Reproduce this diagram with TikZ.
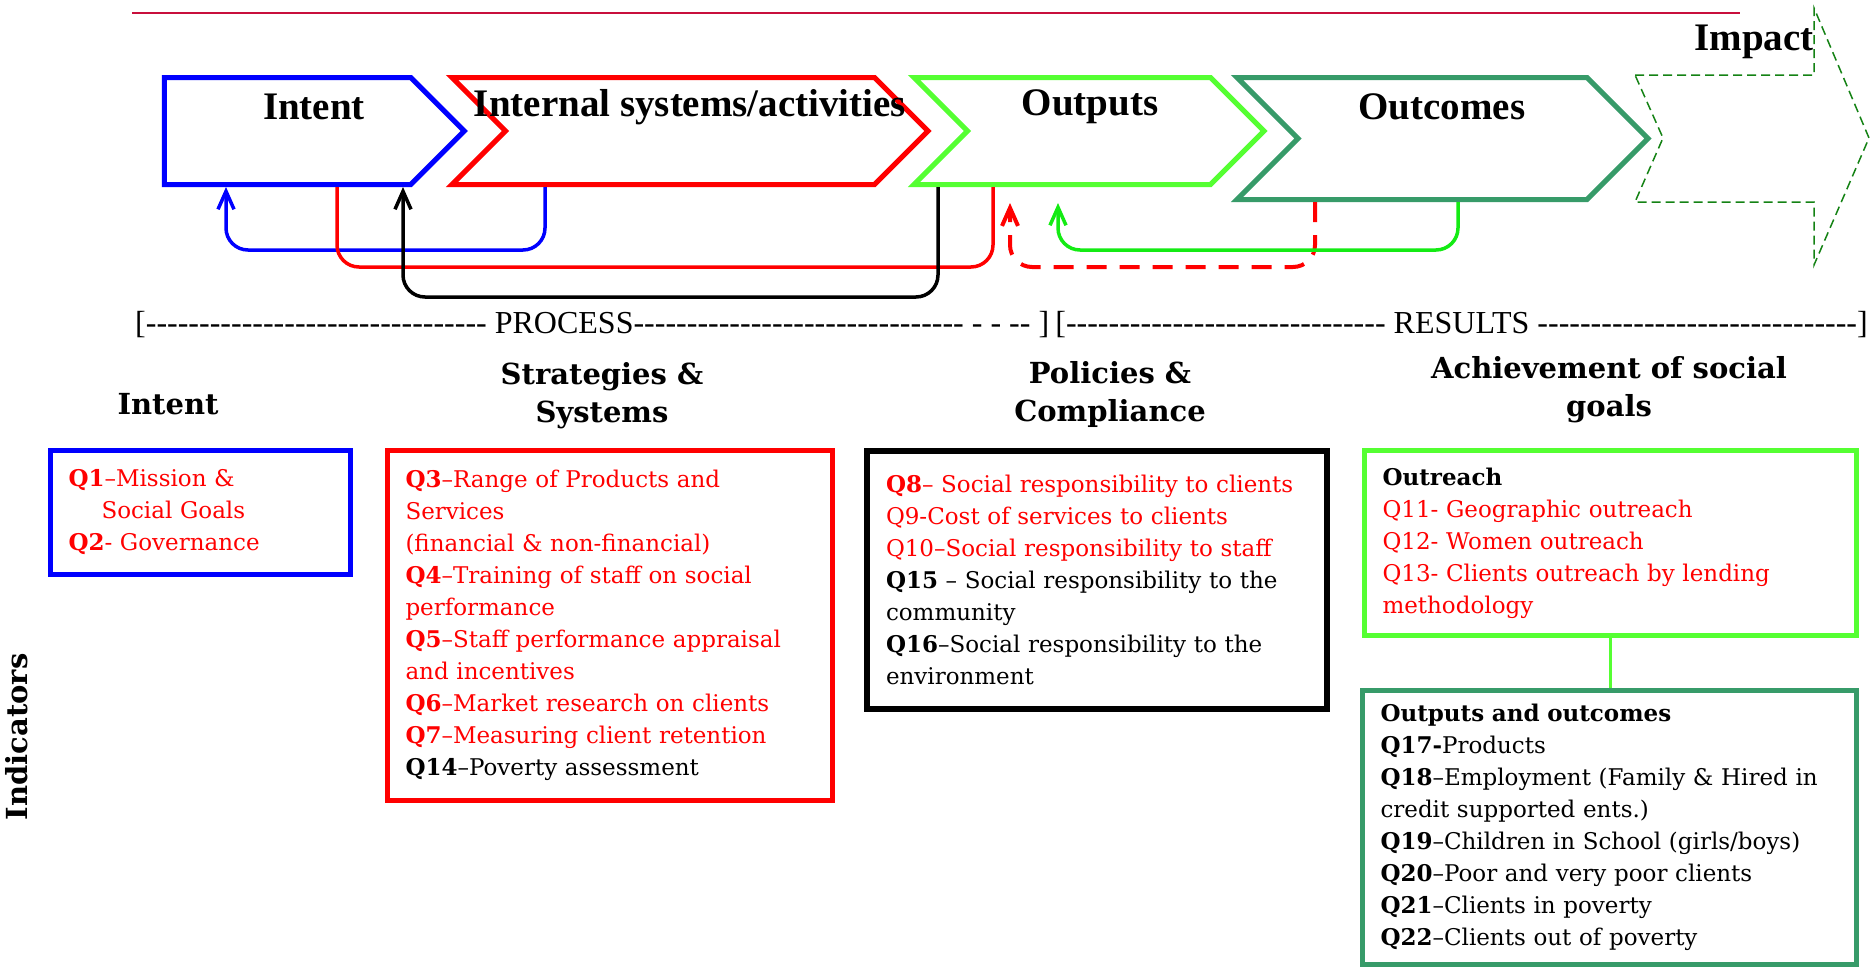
\documentclass[tikz,border=0pt]{standalone}
\usepackage{fontspec}
\setmainfont{DejaVu Serif}
\newfontfamily\timesfont{Liberation Serif}
\usetikzlibrary{arrows.meta,positioning,shapes.symbols,calc}
\definecolor{limeg}{RGB}{85,255,50}
\definecolor{leaf}{RGB}{20,235,20}
\definecolor{pine}{RGB}{55,155,105}
\definecolor{forest}{RGB}{20,130,20}
\definecolor{crimson}{RGB}{200,15,60}
\tikzset{
  >={Straight Barb[length=18pt,width=16pt]},
  chev/.style={signal,signal to=east,signal from=west,signal pointer angle=90,
    draw=#1,line width=5pt,inner sep=0pt},
  chevtext/.style={font=\timesfont\bfseries\fontsize{39}{42}\selectfont},
  head/.style={font=\bfseries\fontsize{29}{38}\selectfont,align=center},
  qbox/.style={draw=#1,line width=5pt,inner xsep=18pt,inner ysep=0pt,
    anchor=north west,align=left,font=\fontsize{23}{32}\selectfont},
  fb/.style={draw=#1,line width=3.5pt,rounded corners=22pt},
  bracket/.style={font=\timesfont\fontsize{32}{34}\selectfont,inner sep=0pt},
}
\newcommand{\q}[1]{\textbf{#1}}
\newcommand{\dashrun}[1]{\foreach \i in {1,...,#1}{-\kern0pt}}

\begin{document}
\begin{tikzpicture}[x=1pt,y=-1pt]
  \useasboundingbox (0,0) rectangle (1872,969);
  \draw[crimson,line width=2.5pt] (132,13) -- (1740,13);
  % value chain
  \node[chev=blue,signal from=nowhere,minimum width=300pt,minimum height=107pt] (intent) at (287.5,131) {};
  \node[chev=red,minimum width=476pt,minimum height=107pt] (internal) at (690,131) {};
  \node[chev=limeg,minimum width=350pt,minimum height=107pt] (outputs) at (1089,131) {};
  \node[chev=pine,minimum width=411pt,minimum height=122pt] (outcomes) at (1442.5,138.5) {};
  \draw[forest,line width=1.5pt,dash pattern=on 9pt off 5pt]
    (1635,75) -- (1814,75) -- (1814,8) -- (1869,138) -- (1814,265)
    -- (1814,202) -- (1635,202) -- (1663,138) -- cycle;
  \node[chevtext] (intent-t) at (314,107) {Intent};
  \node[chevtext] (internal-t) at (690,107) {Internal systems/activities};
  \node[chevtext] (outputs-t) at (1090,107) {Outputs};
  \node[chevtext] (outcomes-t) at (1442,107) {Outcomes};
  \node[chevtext] (impact-t) at (1754,42) {Impact};
  % feedback loops
  \draw[fb=blue,->] ([xshift=-145pt]internal.south) -- ++(0,63) -| ([xshift=-61.5pt]intent.south);
  \draw[fb=red] ([xshift=49.5pt]intent.south) -- ++(0,80) -| ([xshift=-96pt]outputs.south);
  \draw[fb=black,->] ([xshift=-151pt]outputs.south) -- ++(0,110) -| ([xshift=115.5pt]intent.south);
  \draw[fb=red,->,line width=4pt,dash pattern=on 20pt off 13pt] ([xshift=-127.5pt]outcomes.south) -- ++(0,65) -| ([xshift=-79pt,yshift=-16pt]outputs.south);
  \draw[fb=leaf,->] ([xshift=15.5pt]outcomes.south) -- ++(0,48) -| ([xshift=-31pt,yshift=-16pt]outputs.south);
  % process / results
  \node[bracket,anchor=west] (process) at (135,325) {[\dashrun{32} PROCESS\dashrun{31} - - -\kern0pt- ]};
  \node[bracket,anchor=east] (results) at (1868,325) {[\dashrun{30} RESULTS \dashrun{30}]};
  % headings
  \node[head] (h-intent) at (168,404) {Intent};
  \node[head] (h-strat) at (602,396) {Strategies \&\\Systems};
  \node[head] (h-policy) at (1110,394) {Policies \&\\Compliance};
  \node[head] (h-goals) at (1609,390) {Achievement of social\\goals};
  \node[head,rotate=90] (h-ind) at (17,737) {Indicators};
  % indicator boxes
  \node[qbox=blue,minimum width=300pt,minimum height=124pt,text width=264pt,text=red] (intentbox) at (48,448)
    {\q{Q1}–Mission \&\\\hspace*{33pt}Social Goals\\\q{Q2}- Governance};
  \node[qbox=red,minimum width=445pt,minimum height=350pt,text width=409pt,text=red] (stratbox) at (385,448)
    {\q{Q3}–Range of Products and\\Services\\(financial \& non-financial)\\\q{Q4}–Training of staff on social\\performance\\\q{Q5}–Staff performance appraisal\\and incentives\\\q{Q6}–Market research on clients\\\q{Q7}–Measuring client retention\\\textcolor{black}{\q{Q14}–Poverty assessment}};
  \node[qbox=black,line width=6pt,inner xsep=19pt,minimum width=460pt,minimum height=258pt,text width=422pt] (policybox) at (864,448)
    {\textcolor{red}{\q{Q8}– Social responsibility to clients}\\\textcolor{red}{Q9-Cost of services to clients}\\\textcolor{red}{Q10–Social responsibility to staff}\\\q{Q15} – Social responsibility to the\\community\\\q{Q16}–Social responsibility to the\\environment};
  \node[qbox=limeg,minimum width=492pt,minimum height=185pt,text width=456pt,text=red] (reachbox) at (1362,448)
    {\textcolor{black}{\q{Outreach}}\\Q11- Geographic outreach\\Q12- Women outreach\\Q13- Clients outreach by lending\\methodology};
  \node[qbox=pine,minimum width=494pt,minimum height=274pt,text width=458pt] (resultbox) at (1360,688)
    {\q{Outputs and outcomes}\\\q{Q17-}Products\\\q{Q18}–Employment (Family \& Hired in\\credit supported ents.)\\\q{Q19}–Children in School (girls/boys)\\\q{Q20}–Poor and very poor clients\\\q{Q21}–Clients in poverty\\\q{Q22}–Clients out of poverty};
  \draw[limeg,line width=3pt] (reachbox.south) -- (reachbox.south |- resultbox.north);
\end{tikzpicture}
\end{document}
